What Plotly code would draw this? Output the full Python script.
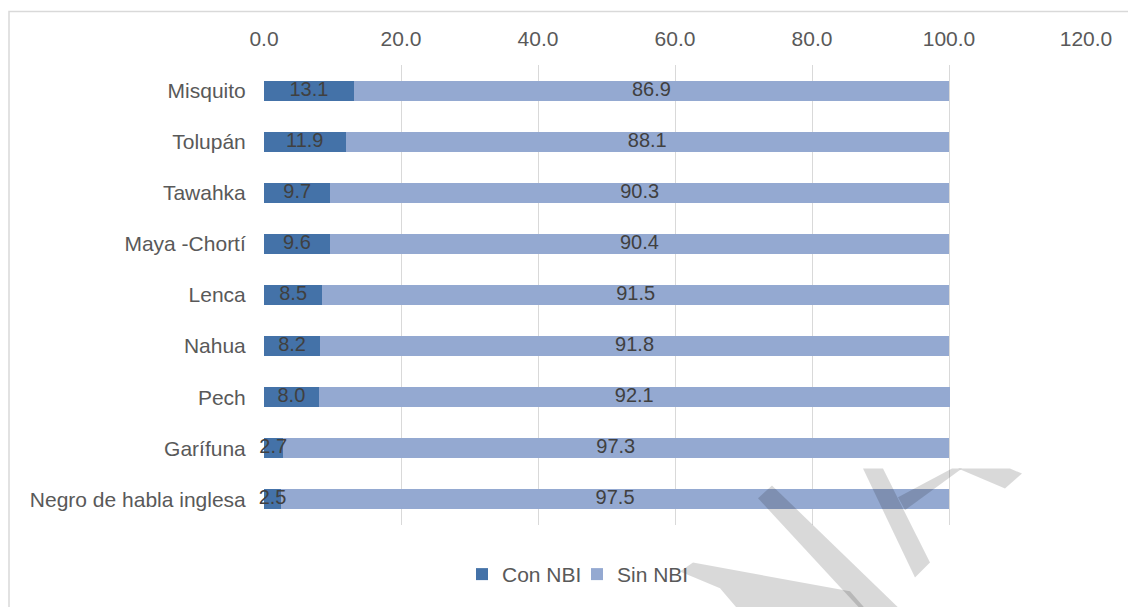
import plotly.graph_objects as go

categories = ["Misquito", "Tolupán", "Tawahka", "Maya -Chortí", "Lenca", "Nahua",
              "Pech", "Garífuna", "Negro de habla inglesa"]
con_nbi = [13.1, 11.9, 9.7, 9.6, 8.5, 8.2, 8.0, 2.7, 2.5]
sin_nbi = [86.9, 88.1, 90.3, 90.4, 91.5, 91.8, 92.1, 97.3, 97.5]
x_ticks = [0, 20, 40, 60, 80, 100, 120]
series_names = ["Con NBI", "Sin NBI"]

W, H = 1128, 607
L, R, T, B = 264, 1086, 65, 530

def px(x):
    return (x - L) / (R - L)

def py(y):
    return (B - y) / (B - T)

FONT = "Liberation Sans, Arial, sans-serif"
LABEL_C = "#404040"
AX_C = "#595959"

fig = go.Figure()
for name, vals, col in [(series_names[0], con_nbi, "#4472A8"),
                        (series_names[1], sin_nbi, "#94A9D1")]:
    fig.add_trace(go.Bar(
        y=categories, x=vals, orientation="h", name=name,
        marker=dict(color=col, line=dict(width=0)),
        hoverinfo="x+y+name",
    ))

# data labels centred on each segment, drawn above all bars
con_mid = [c / 2 for c in con_nbi]
sin_mid = [c + s / 2 for c, s in zip(con_nbi, sin_nbi)]
for mids, vals in [(con_mid, con_nbi), (sin_mid, sin_nbi)]:
    fig.add_trace(go.Scatter(
        x=mids, y=categories, mode="text", text=[f"{v:.1f}" for v in vals],
        textposition="middle center", cliponaxis=False, showlegend=False,
        hoverinfo="skip",
        textfont=dict(family=FONT, size=20, color=LABEL_C),
    ))

shapes = []
# chart border (top + left)
shapes.append(dict(type="path", xref="paper", yref="paper",
                   path=f"M {px(9)},{py(620)} L {px(9)},{py(11)} L {px(1140)},{py(11)}",
                   line=dict(color="#D9D9D9", width=1.5), layer="above"))

# watermark fragments (semi-transparent gray strokes)
wm = [
    [(758, 503), (772, 490), (905, 620), (865, 620)],
    [(680, 577), (693, 568), (850, 597), (870, 620), (742, 620), (720, 594)],
    [(863, 473), (883, 473), (930, 568), (915, 583)],
    [(898, 502), (952, 473), (962, 473), (905, 515)],
    [(958, 473), (1010, 473), (1022, 478), (1005, 493)],
]
for poly in wm:
    d = "M " + " L ".join(f"{px(a)},{py(b)}" for a, b in poly) + " Z"
    shapes.append(dict(type="path", xref="paper", yref="paper", path=d,
                       fillcolor="rgba(0,0,0,0.15)", line=dict(width=0), layer="above"))

fig.update_layout(
    width=W, height=H,
    margin=dict(l=L, r=W - R, t=T, b=H - B, pad=0),
    paper_bgcolor="white", plot_bgcolor="white",
    barmode="stack", bargap=0.61,
    font=dict(family=FONT, size=21, color=AX_C),
    showlegend=True,
    legend=dict(orientation="h", traceorder="normal",
                x=px(577), xanchor="center", y=py(580), yanchor="middle",
                font=dict(family=FONT, size=21, color=AX_C),
                itemwidth=30, entrywidth=70, bgcolor="rgba(0,0,0,0)"),
    shapes=shapes,
)
fig.update_xaxes(
    side="top", range=[0, 120], tickvals=x_ticks,
    ticktext=[f"{v:.1f}" for v in x_ticks],
    showgrid=True, gridcolor="#D9D9D9", gridwidth=1,
    zeroline=False, showline=False,
    ticks="outside", ticklen=10, tickcolor="rgba(0,0,0,0)",
    tickfont=dict(family=FONT, size=21, color=AX_C),
    fixedrange=True,
)
fig.update_yaxes(
    categoryorder="array", categoryarray=categories, autorange="reversed",
    showgrid=False, zeroline=False, showline=False,
    ticks="outside", ticklen=13, tickcolor="rgba(0,0,0,0)",
    tickfont=dict(family=FONT, size=21, color=AX_C),
    fixedrange=True,
)

fig.write_html("out.html")
